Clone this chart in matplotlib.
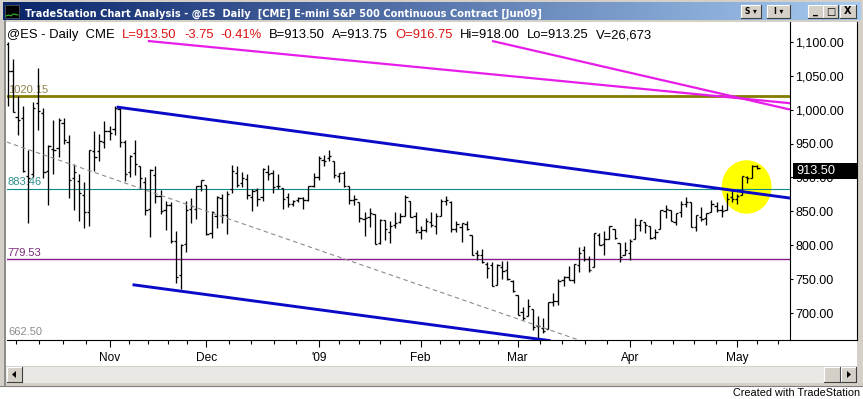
import matplotlib
matplotlib.use("Agg")
import matplotlib.pyplot as plt
import numpy as np
import pandas as pd
from matplotlib.patches import Rectangle, Ellipse, Polygon
from matplotlib.lines import Line2D

# Datos diarios @ES (barras OHLC), 6 oct 2008 - 7 may 2009
festivos = ["2008-11-27", "2008-12-25", "2009-01-01", "2009-01-19",
            "2009-02-16", "2009-04-10", "2009-05-25"]

aperturas = [
    1097.5, 1057.5, 989.0, 988.5, 902.25, 905.0, 1010.0, 994.5, 909.5, 942.25,
    943.5, 980.5, 951.75, 899.0, 895.25, 874.25, 849.0, 939.5, 939.5, 953.0,
    968.75, 971.25, 1001.75, 952.5, 907.5, 936.75, 917.0, 893.5, 853.0, 904.25,
    873.25, 852.25, 859.0, 805.75, 755.75, 801.25, 853.5, 853.0, 887.0, 888.5,
    818.0, 843.5, 869.75, 844.5, 882.75, 906.5, 892.25, 898.25, 871.75, 881.0,
    871.5, 908.25, 906.0, 887.0, 884.25, 871.25, 861.0, 866.5, 869.25, 867.5,
    887.5, 900.0, 926.25, 928.25, 924.5, 902.75, 907.0, 887.5, 866.75, 864.25,
    839.0, 841.5, 846.5, 803.75, 836.75, 819.25, 829.5, 834.25, 842.75, 865.75,
    842.75, 820.0, 822.75, 834.75, 828.75, 843.0, 865.25, 863.75, 824.5, 827.0,
    831.0, 815.5, 788.0, 785.0, 772.75, 770.25, 741.75, 767.75, 762.75, 747.0,
    726.5, 701.5, 695.5, 705.25, 681.0, 677.75, 676.25, 716.5, 717.75, 749.0,
    753.75, 748.75, 771.0, 793.0, 779.5, 768.0, 815.5, 801.75, 809.0, 823.75,
    804.0, 786.0, 788.5, 809.5, 830.0, 834.75, 829.0, 811.75, 824.25, 850.25,
    851.75, 834.5, 849.5, 860.25, 863.25, 826.25, 842.25, 839.5, 849.0, 857.75,
    852.25, 851.75, 871.5, 867.75, 874.25, 901.0, 899.0, 916.75]
maximos = [
    1100.0, 1075.0, 1021.0, 1006.0, 940.0, 1012.0, 1062.0, 1003.0, 947.75, 985.0,
    988.0, 988.0, 962.0, 920.0, 905.0, 893.75, 940.5, 968.0, 964.0, 984.0,
    975.5, 1006.0, 1004.0, 955.0, 933.0, 955.0, 917.0, 900.0, 913.0, 917.0,
    882.25, 866.0, 864.5, 820.5, 801.25, 865.5, 869.0, 887.75, 896.25, 889.0,
    850.5, 873.0, 875.5, 879.5, 918.5, 916.25, 908.25, 904.5, 883.25, 884.5,
    914.75, 918.75, 911.0, 905.5, 884.5, 877.5, 866.75, 870.75, 870.75, 888.0,
    907.25, 931.75, 933.5, 940.75, 924.5, 907.0, 909.0, 887.5, 874.0, 864.25,
    848.5, 855.0, 846.5, 838.75, 836.75, 835.5, 849.5, 847.5, 874.75, 865.75,
    848.75, 827.75, 839.5, 848.75, 847.5, 867.75, 872.0, 865.0, 835.25, 832.5,
    836.5, 815.5, 793.25, 794.5, 775.75, 774.75, 772.5, 777.0, 776.5, 748.25,
    726.5, 708.75, 721.0, 705.25, 696.0, 692.25, 716.5, 729.0, 749.5, 755.25,
    769.5, 773.0, 798.0, 798.25, 784.0, 818.25, 818.75, 821.75, 828.0, 823.75,
    804.0, 805.5, 808.5, 840.5, 837.5, 834.75, 829.0, 823.5, 852.0, 859.25,
    851.75, 848.0, 865.25, 870.5, 863.25, 845.0, 856.75, 847.75, 866.75, 863.75,
    859.5, 877.0, 883.75, 875.5, 902.75, 902.75, 917.75, 918.0]
minimos = [
    1005.0, 996.0, 962.0, 908.0, 833.0, 901.0, 970.0, 899.0, 860.0, 905.0,
    930.0, 949.0, 870.0, 852.0, 836.0, 825.0, 828.0, 910.0, 925.0, 944.0,
    955.0, 962.0, 945.0, 895.0, 901.0, 904.0, 883.0, 845.0, 812.0, 862.0,
    846.0, 822.0, 804.0, 745.0, 736.0, 790.0, 833.0, 839.0, 880.0, 815.0,
    810.0, 826.0, 833.5, 817.0, 877.0, 885.25, 885.5, 868.75, 851.25, 857.75,
    866.0, 896.0, 877.5, 883.0, 854.0, 857.0, 858.5, 863.5, 854.0, 865.0,
    886.5, 896.25, 916.5, 924.25, 899.25, 893.75, 885.25, 861.25, 859.0, 834.0,
    814.0, 827.5, 801.5, 801.25, 808.25, 803.0, 824.75, 832.5, 842.75, 841.25,
    818.75, 809.75, 819.0, 826.25, 817.0, 842.5, 858.75, 820.0, 819.25, 805.0,
    822.25, 786.25, 777.5, 774.0, 751.25, 739.25, 741.75, 750.0, 748.75, 731.5,
    696.75, 689.25, 695.5, 675.0, 662.5, 669.75, 676.25, 710.75, 711.75, 739.5,
    748.25, 745.0, 760.5, 776.75, 761.25, 768.0, 800.5, 786.25, 809.0, 808.5,
    774.75, 786.0, 778.25, 809.5, 821.75, 817.75, 809.5, 809.75, 824.25, 840.25,
    835.25, 830.5, 842.0, 855.75, 827.5, 821.75, 835.5, 830.5, 849.0, 849.75,
    842.0, 851.75, 863.5, 861.0, 874.25, 892.25, 899.0, 913.25]
cierres = [
    1056.75, 996.25, 985.0, 910.0, 899.25, 1003.25, 998.0, 907.75, 946.5, 940.5,
    985.5, 955.0, 896.75, 908.0, 876.75, 848.75, 940.5, 930.0, 954.0, 968.75,
    966.25, 1003.0, 952.75, 904.75, 931.0, 919.25, 899.0, 852.25, 911.25, 873.25,
    850.75, 859.0, 806.5, 752.5, 800.0, 851.75, 857.5, 887.75, 896.25, 816.25,
    848.75, 870.75, 845.25, 876.0, 909.75, 888.75, 899.25, 873.5, 879.75, 868.5,
    913.25, 904.5, 885.25, 887.75, 868.5, 860.25, 865.25, 869.75, 866.5, 887.75,
    900.25, 928.75, 924.5, 931.75, 903.75, 906.75, 887.25, 867.25, 868.75, 839.5,
    840.75, 847.0, 802.25, 837.25, 824.5, 829.0, 833.5, 842.75, 871.0, 842.25,
    822.75, 822.5, 835.5, 829.25, 842.75, 865.5, 866.75, 824.25, 830.75, 832.25,
    823.75, 786.25, 785.5, 776.0, 767.0, 740.25, 770.25, 762.0, 749.75, 732.0,
    697.75, 693.25, 709.75, 679.5, 680.25, 673.5, 716.5, 718.25, 747.75, 753.5,
    748.75, 773.0, 789.25, 779.0, 763.5, 818.0, 801.0, 808.75, 827.75, 811.0,
    782.5, 792.75, 806.0, 829.5, 837.5, 830.5, 810.5, 820.25, 851.5, 853.75,
    836.5, 847.0, 860.25, 864.5, 827.5, 845.0, 838.5, 847.0, 861.25, 852.5,
    850.25, 868.5, 867.75, 872.5, 902.25, 898.75, 917.25, 913.5]

oferta, demanda, volumen = 913.50, 913.75, 26673

# Lineas horizontales con etiqueta
niveles = [1020.15, 883.46, 779.53, 662.50]
colores_nivel = ["#847C00", "#0E8C8C", "#8A1A8A", None]
colores_etiqueta = ["#8C8246", "#2E8E8E", "#7A2A7A", "#8C8C8C"]
grosor_nivel = [2.0, 0.8, 1.0, 0]

# Lineas de tendencia: (barra, precio) inicio y fin
canal_superior = [(21.4, 1004.0), (155.0, 868.0)]
canal_inferior = [(24.5, 741.8), (106.5, 659.0)]
magenta_1 = [(27.5, 1101.5), (155.0, 1008.5)]
magenta_2 = [(95.0, 1101.5), (155.0, 997.5)]
tendencia_gris = [(-0.2, 952.4), (113.0, 657.5)]
centro_circulo = (144.9, 886.0)

W, H = 863, 399
plt.rcParams["font.family"] = ["Liberation Sans", "DejaVu Sans"]
fig = plt.figure(figsize=(W / 100, H / 100), dpi=100)
fig.patch.set_facecolor("white")
r = fig.canvas.get_renderer()


def px_rect(x0, y0, x1, y1, **kw):
    rc = Rectangle((x0 / W, 1 - y1 / H), (x1 - x0) / W, (y1 - y0) / H,
                   transform=fig.transFigure, **kw)
    fig.add_artist(rc)
    return rc


def px_line(xs, ys, **kw):
    fig.add_artist(Line2D([x / W for x in xs], [1 - y / H for y in ys],
                          transform=fig.transFigure, **kw))


def px_text(x, y, s, **kw):
    return fig.text(x / W, 1 - y / H, s, **kw)


def boton(x0, y0, x1, y1):
    px_rect(x0, y0, x1, y1, fc="#D4D0C8", ec="none", zorder=2)
    px_line([x0, x1], [y0, y0], color="white", lw=0.8, zorder=2)
    px_line([x0, x0], [y0, y1], color="white", lw=0.8, zorder=2)
    px_line([x0, x1], [y1, y1], color="#404040", lw=0.8, zorder=2)
    px_line([x1, x1], [y0, y1], color="#404040", lw=0.8, zorder=2)


# Marco de la ventana
px_rect(0, 0, W, 386, fc="#D4D0C8", ec="none", zorder=-10)
px_rect(6, 22, 857, 366, fc="white", ec="none", zorder=-9)
px_line([5, 5], [21, 385], color="#808080", lw=1.2, zorder=-8)

# Barra de titulo con degradado
ax_t = fig.add_axes([3 / W, 1 - 20 / H, 857 / W, 18 / H])
grad = np.linspace(0, 1, 256)
c0 = np.array([10, 36, 106]) / 255
c1 = np.array([166, 202, 240]) / 255
img = (c0[None, :] * (1 - grad[:, None]) + c1[None, :] * grad[:, None])[None, :, :]
ax_t.imshow(img, aspect="auto", extent=[0, 1, 0, 1])
ax_t.axis("off")

px_rect(5, 5, 19, 18, fc="black", ec="#606060", lw=0.5, zorder=2)
px_line([6, 9, 11, 13, 18], [16, 15, 16, 14, 15], color="#30C030", lw=0.8, zorder=3)

titulo = px_text(25, 16.5, "TradeStation Chart Analysis - @ES  Daily  [CME] "
                 "E-mini S&P 500 Continuous Contract [Jun09]",
                 color="white", fontweight="bold", family="DejaVu Sans",
                 fontsize=8, va="baseline", ha="left", zorder=3)
w = titulo.get_window_extent(renderer=r).width
titulo.set_fontsize(titulo.get_fontsize() * 516 / w)

for x0, x1, s in [(741, 761, "S \u25be"), (767, 790, "I \u25be")]:
    boton(x0, 5, x1, 18)
    px_text((x0 + x1) / 2, 11.8, s, fontsize=5.5, fontweight="bold",
            family="DejaVu Sans", ha="center", va="center", zorder=3)
for x0, x1, s in [(808, 823, "_"), (823, 838, "\u25a1"), (840, 856, "X")]:
    boton(x0, 5, x1, 18)
    px_text((x0 + x1) / 2, 11.5, s, fontsize=7, fontweight="bold",
            family="DejaVu Sans", ha="center", va="center", zorder=3)

# Grafico principal
fechas_all = pd.bdate_range("2008-10-01", "2009-06-01")
fechas_all = fechas_all[~fechas_all.isin(pd.to_datetime(festivos))]
base = fechas_all.get_loc(pd.Timestamp("2008-10-06"))
posiciones = np.arange(len(fechas_all)) - base

ax = fig.add_axes([6.5 / W, 1 - 340 / H, (790 - 6.5) / W, (340 - 22) / H])
ax.set_facecolor("white")

idx = np.arange(len(cierres))
ax.add_patch(Ellipse(centro_circulo, 9.8, 79, fc="#FFFF00", ec="none", zorder=1))

for nivel, col, lw in zip(niveles, colores_nivel, grosor_nivel):
    if col is not None:
        ax.axhline(nivel, color=col, lw=lw, zorder=2)
for nivel, col in zip(niveles, colores_etiqueta):
    ax.annotate(f"{nivel:.2f}", xy=(0, nivel), xycoords=("axes fraction", "data"),
                xytext=(1.0, 1.0), textcoords="offset points", va="bottom",
                ha="left", fontsize=8, color=col, zorder=2)

ax.vlines(idx, minimos, maximos, color="black", lw=0.95, zorder=3)
ax.hlines(aperturas, idx - 0.45, idx, color="black", lw=0.95, zorder=3)
ax.hlines(cierres, idx, idx + 0.45, color="black", lw=0.95, zorder=3)

for linea, col, lw, ls in [(tendencia_gris, "#8C8C8C", 0.8, (0, (4, 3))),
                           (canal_superior, "#0A0AC8", 2.1, "-"),
                           (canal_inferior, "#0A0AC8", 2.1, "-"),
                           (magenta_1, "#E81CE8", 1.6, "-"),
                           (magenta_2, "#E81CE8", 1.6, "-")]:
    (xa, ya), (xb, yb) = linea
    ax.plot([xa, xb], [ya, yb], color=col, lw=lw, ls=ls, zorder=4,
            solid_capstyle="butt")

# Eje de precios a la derecha
ax.yaxis.tick_right()
ax.set_yticks(np.arange(700, 1101, 50))
ax.set_yticklabels([f"{v:,.2f}" for v in np.arange(700, 1101, 50)])
ax.tick_params(axis="y", length=2.5, width=0.8, pad=1.3, labelsize=9,
               right=True, left=False)

# Eje de fechas: inicio de cada mes y 4 marcas intermedias
nuevo_mes = [i for i in range(len(fechas_all))
             if i == 0 or fechas_all[i].month != fechas_all[i - 1].month]
inicios = [posiciones[i] for i in nuevo_mes]
etiquetas = ["'" + fechas_all[i].strftime("%y") if fechas_all[i].month == 1
             else fechas_all[i].strftime("%b") for i in nuevo_mes]
menores = []
for a, b in zip(inicios[:-1], inicios[1:]):
    menores += [a + k * (b - a) / 5 for k in range(1, 5)]
ax.set_xticks(inicios)
ax.set_xticklabels(etiquetas)
ax.set_xticks(menores, minor=True)
ax.tick_params(axis="x", which="major", length=5, width=0.8, pad=3.8, labelsize=8.6)
ax.tick_params(axis="x", which="minor", length=3, width=0.8)

# limites despues de los ticks para que no se ensanchen
ax.set_xlim(-0.2, 153.4)
ax.set_ylim(660.15, 1129.5)

ax.spines["top"].set_visible(False)
ax.spines["left"].set_visible(False)
ax.spines["right"].set_linewidth(0.8)
ax.spines["bottom"].set_linewidth(0.8)
px_line([790, 857], [340, 340], color="black", lw=0.8)
px_line([857, 857], [22, 340], color="black", lw=0.8)

# Cabecera con la ultima cotizacion, piezas encadenadas
cambio = cierres[-1] - cierres[-2]
pct = cambio / cierres[-2] * 100
rojo = "#DC1414"
partes = [("@ES - Daily  CME", "black"),
          (f"L={cierres[-1]:.2f}", rojo),
          (f"{cambio:.2f}", rojo),
          (f"{pct:.2f}%", rojo),
          (f"B={oferta:.2f}", "black"),
          (f"A={demanda:.2f}", "black"),
          (f"O={aperturas[-1]:.2f}", rojo),
          (f"Hi={maximos[-1]:.2f}", "black"),
          (f"Lo={minimos[-1]:.2f}", "black"),
          (f"V={volumen:,}", "black")]
completo = "  ".join(s for s, c in partes)
prueba = px_text(7.3, 38.3, completo, fontsize=9)
tam = 9 * (650 - 7.3) / prueba.get_window_extent(renderer=r).width
prueba.remove()
hueco = px_text(0, 0, "a  a", fontsize=tam)
ancho_a = px_text(0, 0, "aa", fontsize=tam)
sep = hueco.get_window_extent(renderer=r).width - ancho_a.get_window_extent(renderer=r).width
hueco.remove()
ancho_a.remove()
x = 7.3
for s, col in partes:
    t = px_text(x, 38.3, s, color=col, fontsize=tam, va="baseline", ha="left", zorder=5)
    x += t.get_window_extent(renderer=r).width + sep

# Etiqueta del ultimo precio
y_ult = H - ax.transData.transform((0, cierres[-1]))[1] + 3
px_rect(793, y_ult - 8, 857, y_ult + 8, fc="black", ec="none", zorder=6)
px_text(796, y_ult, f"{cierres[-1]:.2f}", color="white", fontsize=9.2,
        va="center", ha="left", zorder=7)

# Barra de desplazamiento
px_rect(6, 367, 857, 383, fc="#E9E8E4", ec="none", zorder=-5)
boton(7, 367, 22, 382)
boton(824, 367, 840, 382)
boton(841, 367, 856, 382)
fig.add_artist(Polygon([(12 / W, 1 - 374.5 / H), (16 / W, 1 - 371 / H), (16 / W, 1 - 378 / H)],
                       closed=True, transform=fig.transFigure, fc="black", ec="none", zorder=3))
fig.add_artist(Polygon([(851 / W, 1 - 374.5 / H), (847 / W, 1 - 371 / H), (847 / W, 1 - 378 / H)],
                       closed=True, transform=fig.transFigure, fc="black", ec="none", zorder=3))
px_line([0, W], [385.5, 385.5], color="#808080", lw=0.8, zorder=-4)

px_text(860, 396, "Created with TradeStation", fontsize=7.8,
        ha="right", va="baseline", color="black")

fig.savefig("out.png", dpi=100)
